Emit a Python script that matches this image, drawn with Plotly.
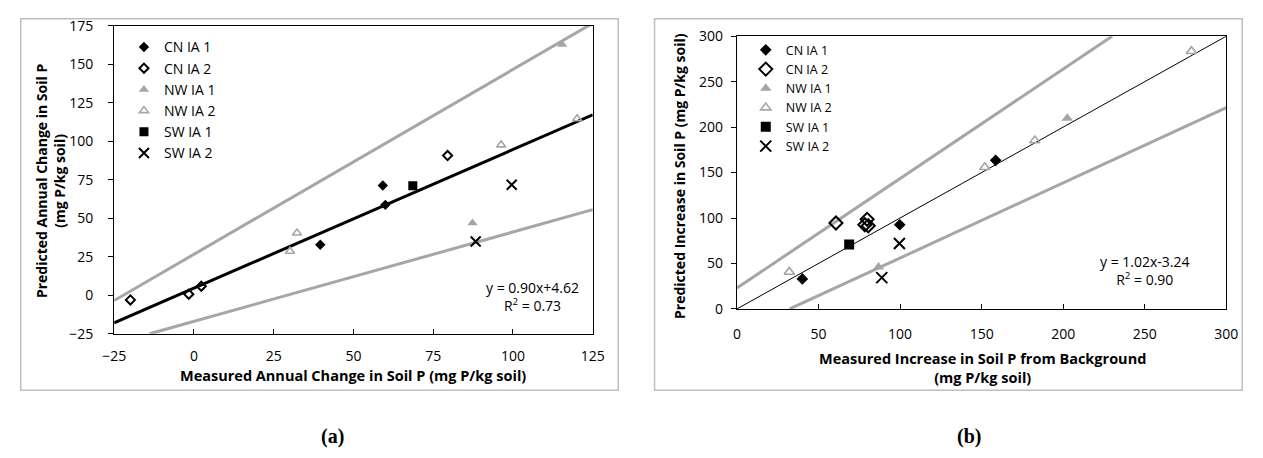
import plotly.graph_objects as go

# Page is 1263x458; the browser body keeps an 8px margin, so the figure is
# sized to fit inside it and all pixel positions below are page pixels.
PAGE_W, PAGE_H = 1263, 458
BODY_M = 8
W, H = PAGE_W - 2 * BODY_M, PAGE_H - 2 * BODY_M

# ---------------- Panel (a) data ----------------
a_cn1_x = [59.2, 60.0, 39.6]
a_cn1_y = [71.3, 58.7, 32.8]
a_cn2_x = [-19.9, -1.6, 2.3, 79.5]
a_cn2_y = [-3.0, 0.7, 5.9, 90.7]
a_nw1_x = [115.4, 87.3]
a_nw1_y = [162.8, 46.9]
a_nw2_x = [120.1, 96.3, 32.3, 30.1]
a_nw2_y = [114.6, 97.6, 40.4, 28.6]
a_sw1_x = [68.6]
a_sw1_y = [71.1]
a_sw2_x = [99.6, 88.3]
a_sw2_y = [71.7, 34.9]
a_fit_slope, a_fit_icpt = 0.90, 4.62
a_fit_x = [-25, 125]
a_upper_x = [-25, 125]
a_upper_y = [-3.4, 176.6]
a_lower_x = [-13.9, 125]
a_lower_y = [-25, 55.6]

# ---------------- Panel (b) data ----------------
b_cn1_x = [158.6, 99.8, 40.1]
b_cn1_y = [163.5, 92.6, 33.0]
b_cn2_x = [60.7, 79.8, 78.4, 80.5]
b_cn2_y = [94.5, 98.6, 92.6, 91.5]
b_nw1_x = [202.5, 86.8]
b_nw1_y = [209.8, 46.0]
b_nw2_x = [278.6, 182.6, 151.9, 32.1]
b_nw2_y = [283.5, 185.3, 155.8, 40.7]
b_sw1_x = [68.8]
b_sw1_y = [71.0]
b_sw2_x = [99.6, 88.8]
b_sw2_y = [72.0, 34.4]
b_one_x = [0, 300]
b_one_y = [0, 300]
b_upper_x = [0, 230]
b_upper_y = [23, 300]
b_lower_x = [32.3, 300]
b_lower_y = [0, 221.4]

series_names = ["CN IA 1", "CN IA 2", "NW IA 1", "NW IA 2", "SW IA 1", "SW IA 2"]

GRAY = "#a6a6a6"
FONT = "'Open Sans', 'Noto Sans', sans-serif"
SERIF = "'Liberation Serif', 'Times New Roman', serif"


def fx(px):
    return (px - BODY_M) / W


def fy(py):
    return 1 - (py - BODY_M) / H


styles_a = [
    dict(symbol="diamond", color="black", size=8),
    dict(symbol="diamond-open", color="black", size=7, line=dict(width=2, color="black")),
    dict(symbol="triangle-up", color=GRAY, size=9),
    dict(symbol="triangle-up-open", color=GRAY, size=8, line=dict(width=1.6, color=GRAY)),
    dict(symbol="square", color="black", size=9),
    dict(symbol="x-thin-open", color="black", size=10, line=dict(width=2, color="black")),
]
styles_b = [
    dict(symbol="diamond", color="black", size=9),
    dict(symbol="diamond-open", color="black", size=10, line=dict(width=2, color="black")),
    dict(symbol="triangle-up", color=GRAY, size=10),
    dict(symbol="triangle-up-open", color=GRAY, size=9, line=dict(width=1.6, color=GRAY)),
    dict(symbol="square", color="black", size=10),
    dict(symbol="x-thin-open", color="black", size=11, line=dict(width=2, color="black")),
]

fig = go.Figure()

# lines panel a
fig.add_trace(go.Scatter(x=a_upper_x, y=a_upper_y, mode="lines", line=dict(color=GRAY, width=3),
                         showlegend=False, xaxis="x", yaxis="y", hoverinfo="skip"))
fig.add_trace(go.Scatter(x=a_lower_x, y=a_lower_y, mode="lines", line=dict(color=GRAY, width=3),
                         showlegend=False, xaxis="x", yaxis="y", hoverinfo="skip"))
fig.add_trace(go.Scatter(x=a_fit_x, y=[a_fit_slope * v + a_fit_icpt for v in a_fit_x], mode="lines",
                         line=dict(color="black", width=3), showlegend=False,
                         xaxis="x", yaxis="y", hoverinfo="skip"))
# lines panel b
fig.add_trace(go.Scatter(x=b_upper_x, y=b_upper_y, mode="lines", line=dict(color=GRAY, width=3),
                         showlegend=False, xaxis="x2", yaxis="y2", hoverinfo="skip"))
fig.add_trace(go.Scatter(x=b_lower_x, y=b_lower_y, mode="lines", line=dict(color=GRAY, width=3),
                         showlegend=False, xaxis="x2", yaxis="y2", hoverinfo="skip"))
fig.add_trace(go.Scatter(x=b_one_x, y=b_one_y, mode="lines", line=dict(color="black", width=1),
                         showlegend=False, xaxis="x2", yaxis="y2", hoverinfo="skip"))

a_data = [(a_cn1_x, a_cn1_y), (a_cn2_x, a_cn2_y), (a_nw1_x, a_nw1_y),
          (a_nw2_x, a_nw2_y), (a_sw1_x, a_sw1_y), (a_sw2_x, a_sw2_y)]
b_data = [(b_cn1_x, b_cn1_y), (b_cn2_x, b_cn2_y), (b_nw1_x, b_nw1_y),
          (b_nw2_x, b_nw2_y), (b_sw1_x, b_sw1_y), (b_sw2_x, b_sw2_y)]

for name, (xs, ys), st in zip(series_names, a_data, styles_a):
    fig.add_trace(go.Scatter(x=xs, y=ys, mode="markers", name=name, marker=st,
                             xaxis="x", yaxis="y", legend="legend"))
for name, (xs, ys), st in zip(series_names, b_data, styles_b):
    fig.add_trace(go.Scatter(x=xs, y=ys, mode="markers", name=name, marker=st,
                             xaxis="x2", yaxis="y2", legend="legend2"))

axis_common = dict(showline=True, linecolor="black", linewidth=1, mirror=True,
                   showgrid=False, zeroline=False, tickcolor="black", ticklen=5,
                   tickfont=dict(family=FONT, size=14, color="#000"))


def ann(text, x, y, size, family=FONT, angle=0):
    return dict(text=text, xref="paper", yref="paper", x=fx(x), y=fy(y), showarrow=False,
                xanchor="center", yanchor="middle", textangle=angle,
                font=dict(family=family, size=size, color="#000"))


fig.update_layout(
    width=W, height=H, autosize=False,
    margin=dict(l=0, r=0, t=0, b=0),
    paper_bgcolor="white", plot_bgcolor="white",
    font=dict(family=FONT, color="#000"),
    xaxis=dict(domain=[fx(104), fx(592)], range=[-25, 125], tick0=-25, dtick=25,
               ticks="inside", anchor="y", ticklabelstandoff=9, **axis_common),
    yaxis=dict(domain=[fy(338), fy(16)], range=[-25, 175], tick0=-25, dtick=25,
               ticks="outside", anchor="x", ticklabelstandoff=12, **axis_common),
    xaxis2=dict(domain=[fx(739), fx(1238)], range=[0, 300], dtick=50,
                ticks="inside", anchor="y2", ticklabelstandoff=12, **axis_common),
    yaxis2=dict(domain=[fy(312), fy(27)], range=[0, 300], dtick=50,
                ticks="outside", anchor="x2", ticklabelstandoff=5, **axis_common),
    legend=dict(x=fx(114), y=fy(22), xanchor="left", yanchor="top", bgcolor="rgba(0,0,0,0)",
                font=dict(family=FONT, size=14, color="#000"), itemwidth=30,
                tracegroupgap=0),
    legend2=dict(x=fx(748), y=fy(26), xanchor="left", yanchor="top", bgcolor="rgba(0,0,0,0)",
                 font=dict(family=FONT, size=12.5, color="#000"), itemwidth=30,
                 tracegroupgap=0),
    shapes=[
        dict(type="rect", xref="paper", yref="paper", x0=fx(8.8), x1=fx(618), y0=fy(397),
             y1=fy(8.8), line=dict(color="#bfbfbf", width=1.5), layer="below"),
        dict(type="rect", xref="paper", yref="paper", x0=fx(655), x1=fx(1254.2), y0=fy(397),
             y1=fy(8.8), line=dict(color="#bfbfbf", width=1.5), layer="below"),
    ],
    annotations=[
        ann("<b>Predicted Annual Change in Soil P<br>(mg P/kg soil)</b>", 39, 178, 14, angle=-90),
        ann("<b>Measured Annual Change in Soil P (mg P/kg soil)</b>", 348, 382, 14.5),
        ann("<b>Predicted Increase in Soil P (mg P/kg soil)</b>", 681, 173, 14, angle=-90),
        ann("<b>Measured Increase in Soil P from Background<br>(mg P/kg soil)</b>", 989, 374, 14.5),
        dict(text="y = 0.90x+4.62<br>R<sup>2</sup> = 0.73", xref="x", yref="y", x=106, y=-0.8,
             xanchor="center", yanchor="middle", showarrow=False,
             font=dict(family=FONT, size=14, color="#000")),
        dict(text="y = 1.02x-3.24<br>R<sup>2</sup> = 0.90", xref="x2", yref="y2", x=250, y=42,
             xanchor="center", yanchor="middle", showarrow=False,
             font=dict(family=FONT, size=14, color="#000")),
        ann("<b>(a)</b>", 327, 445, 20, family=SERIF),
        ann("<b>(b)</b>", 976, 445, 20, family=SERIF),
    ],
)

fig.write_html("out.html", config={"displayModeBar": False})
